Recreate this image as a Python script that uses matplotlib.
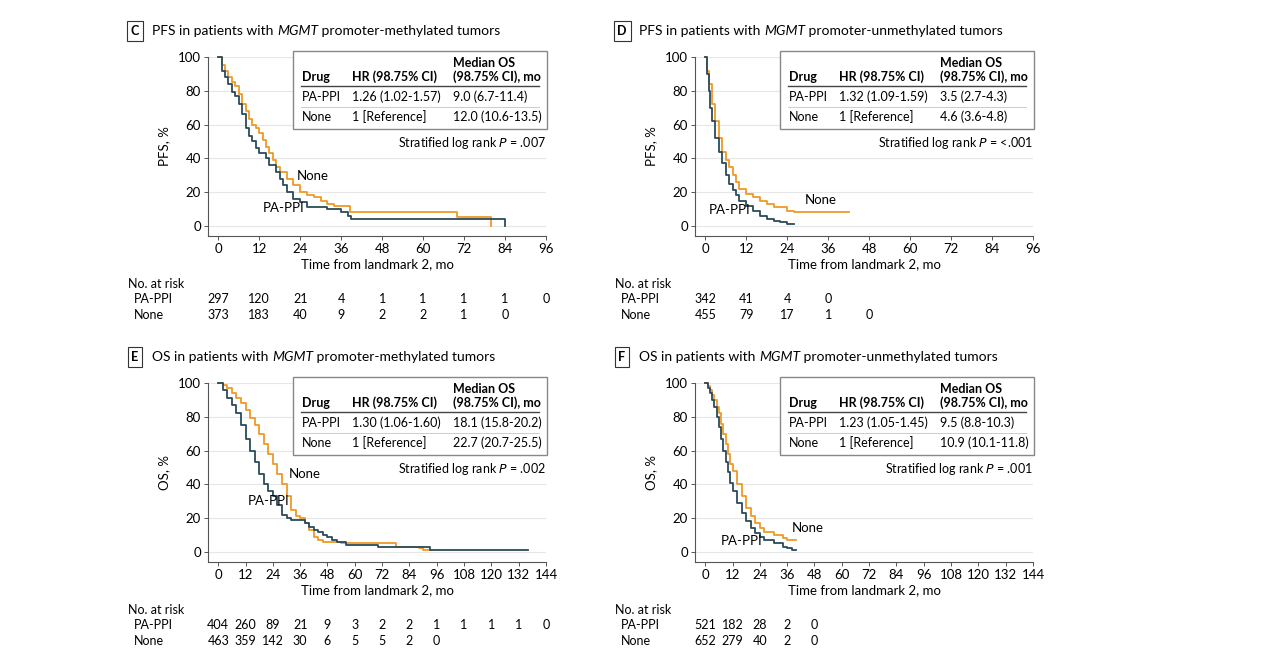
import numpy as np
import matplotlib.pyplot as plt
from matplotlib.transforms import blended_transform_factory

plt.rcParams['font.family'] = ['Lato', 'DejaVu Sans']
plt.rcParams['font.size'] = 9.5

ORANGE = '#EE9A25'
TEAL = '#2B4B5C'
W, H = 1264, 655

# ---- data ----
c_ppi_t = [0, 1, 2, 3, 4, 5, 6, 7, 8, 9, 10, 11, 12, 14, 15, 17, 18, 19, 20, 22, 24, 26, 30, 32, 36, 38, 39, 84, 84.01]
c_ppi_s = [100, 92, 88, 84, 79, 77, 72, 66, 58, 53, 50, 46, 43, 40, 36, 32, 28, 24, 20, 16, 14, 11, 11, 10, 8, 6, 4, 4, 0]
c_none_t = [0, 1, 2, 3, 4, 5, 6, 7, 8, 9, 10, 11, 12, 13, 14, 15, 16, 17, 18, 20, 22, 24, 26, 28, 30, 32, 34, 38, 38.5, 70, 80, 80.01]
c_none_s = [100, 95, 92, 88, 85, 83, 78, 72, 68, 63, 60, 58, 55, 51, 47, 43, 39, 35, 32, 28, 24, 20, 18, 17, 15, 13, 12, 12, 8, 5, 5, 0]

d_ppi_t = [0, 0.5, 1, 1.5, 2, 3, 4, 5, 6, 7, 8, 9, 10, 12, 14, 16, 18, 20, 22, 24, 26]
d_ppi_s = [100, 90, 80, 70, 62, 52, 44, 37, 30, 25, 21, 18, 15, 12, 9, 6, 4, 3, 2, 1, 1]
d_none_t = [0, 0.5, 1, 2, 3, 4, 5, 6, 7, 8, 9, 10, 12, 14, 16, 18, 20, 24, 26, 42]
d_none_s = [100, 92, 84, 72, 62, 52, 44, 39, 35, 30, 26, 22, 19, 17, 15, 13, 11, 9, 8, 8]

e_ppi_t = [0, 2, 4, 6, 8, 10, 12, 14, 16, 18, 20, 22, 24, 26, 28, 30, 32, 36, 38, 40, 42, 44, 46, 48, 50, 52, 56, 68, 70, 92, 93, 136]
e_ppi_s = [100, 96, 91, 87, 82, 75, 67, 60, 53, 46, 40, 36, 33, 28, 22, 20, 19, 19, 17, 15, 13, 12, 10, 9, 7, 6, 4, 4, 3, 3, 1, 1]
e_none_t = [0, 2, 4, 6, 8, 10, 12, 14, 16, 18, 20, 22, 24, 26, 28, 30, 32, 34, 36, 38, 40, 42, 44, 46, 54, 76, 78, 88, 90, 94]
e_none_s = [100, 99, 97, 94, 91, 88, 84, 79, 75, 70, 64, 58, 52, 46, 40, 33, 25, 21, 20, 17, 13, 9, 7, 6, 5, 5, 3, 2, 1, 1]

f_ppi_t = [0, 1, 2, 3, 4, 5, 6, 7, 8, 9, 10, 11, 12, 14, 16, 18, 20, 22, 24, 26, 30, 34, 36, 38, 40]
f_ppi_s = [100, 97, 94, 90, 86, 80, 74, 67, 60, 53, 47, 41, 36, 29, 23, 18, 14, 11, 9, 7, 5, 3, 2, 1, 1]
f_none_t = [0, 1, 2, 3, 4, 5, 6, 7, 8, 9, 10, 11, 12, 14, 16, 18, 20, 22, 24, 26, 30, 34, 36, 40]
f_none_s = [100, 98, 96, 93, 90, 86, 82, 76, 70, 64, 58, 52, 48, 40, 33, 26, 21, 17, 14, 12, 10, 8, 7, 7]

c_risk_ppi = [297, 120, 21, 4, 1, 1, 1, 1, 0]
c_risk_none = [373, 183, 40, 9, 2, 2, 1, 0]
d_risk_ppi = [342, 41, 4, 0]
d_risk_none = [455, 79, 17, 1, 0]
e_risk_ppi = [404, 260, 89, 21, 9, 3, 2, 2, 1, 1, 1, 1, 0]
e_risk_none = [463, 359, 142, 30, 6, 5, 5, 2, 0]
f_risk_ppi = [521, 182, 28, 2, 0]
f_risk_none = [652, 279, 40, 2, 0]

panels = [
    dict(letter='C', pre='PFS in patients with ', post=' promoter-methylated tumors', ylab='PFS, %',
         dx=0, dy=0, xmax=96, ppi=(c_ppi_t, c_ppi_s), none=(c_none_t, c_none_s),
         hr='1.26 (1.02-1.57)', m1='9.0 (6.7-11.4)', m2='12.0 (10.6-13.5)', p='.007',
         lab_none=(23, 27), lab_ppi=(13, 8), risk=(c_risk_ppi, c_risk_none)),
    dict(letter='D', pre='PFS in patients with ', post=' promoter-unmethylated tumors', ylab='PFS, %',
         dx=487, dy=0, xmax=96, ppi=(d_ppi_t, d_ppi_s), none=(d_none_t, d_none_s),
         hr='1.32 (1.09-1.59)', m1='3.5 (2.7-4.3)', m2='4.6 (3.6-4.8)', p='<.001',
         lab_none=(29, 13), lab_ppi=(1, 7), risk=(d_risk_ppi, d_risk_none)),
    dict(letter='E', pre='OS in patients with ', post=' promoter-methylated tumors', ylab='OS, %',
         dx=0, dy=326, xmax=144, ppi=(e_ppi_t, e_ppi_s), none=(e_none_t, e_none_s),
         hr='1.30 (1.06-1.60)', m1='18.1 (15.8-20.2)', m2='22.7 (20.7-25.5)', p='.002',
         lab_none=(31, 44), lab_ppi=(13, 28), risk=(e_risk_ppi, e_risk_none)),
    dict(letter='F', pre='OS in patients with ', post=' promoter-unmethylated tumors', ylab='OS, %',
         dx=487, dy=326, xmax=144, ppi=(f_ppi_t, f_ppi_s), none=(f_none_t, f_none_s),
         hr='1.23 (1.05-1.45)', m1='9.5 (8.8-10.3)', m2='10.9 (10.1-11.8)', p='.001',
         lab_none=(38, 12), lab_ppi=(7, 4), risk=(f_risk_ppi, f_risk_none)),
]


def fx(x):
    return x / W


def fy(y):
    return 1 - y / H


fig = plt.figure(figsize=(12.64, 6.55), dpi=100)

for p in panels:
    dx, dy = p['dx'], p['dy']
    xmax = p['xmax']
    ax = fig.add_axes([fx(208 + dx), fy(236 + dy), (546 - 208) / W, (236 - 57) / H])
    ax.set_xlim(-xmax * 3 / 96, xmax)
    ax.set_ylim(-6, 100)
    for s in ['top', 'right']:
        ax.spines[s].set_visible(False)
    for s in ['left', 'bottom']:
        ax.spines[s].set_color('#555555')
        ax.spines[s].set_linewidth(0.8)
    ax.set_yticks([0, 20, 40, 60, 80, 100])
    ax.set_xticks(np.arange(0, xmax + 1, 12))
    ax.tick_params(length=3, width=0.7, color='#555555', labelsize=9.5, pad=2)
    ax.grid(axis='y', color='#E6E6E6', linewidth=0.8)
    ax.set_axisbelow(True)
    ax.set_xlabel('Time from landmark 2, mo', fontsize=9.5, labelpad=2)
    ax.set_ylabel(p['ylab'], fontsize=9.5, labelpad=6)

    ax.step(*p['none'], where='post', color=ORANGE, lw=1.3, clip_on=False)
    ax.step(*p['ppi'], where='post', color=TEAL, lw=1.3, clip_on=False)
    ax.text(*p['lab_none'], 'None', fontsize=9.5)
    ax.text(*p['lab_ppi'], 'PA-PPI', fontsize=9.5)

    # title with boxed letter
    fig.text(fx(135 + dx), fy(31 + dy), p['letter'], fontsize=9, fontweight='bold', ha='center', va='center',
             bbox=dict(boxstyle='square,pad=0.3', fc='white', ec='#333333', lw=0.8))
    t1 = fig.text(fx(152 + dx), fy(31 + dy), p['pre'], fontsize=10, va='center')
    fig.canvas.draw()
    bb = t1.get_window_extent()
    t2 = fig.text(bb.x1 / W, fy(31 + dy), 'MGMT', fontsize=10, style='italic', va='center')
    fig.canvas.draw()
    bb2 = t2.get_window_extent()
    fig.text(bb2.x1 / W, fy(31 + dy), p['post'], fontsize=10, va='center')

    # inset table
    fig.add_artist(plt.Rectangle((fx(293 + dx), fy(129 + dy)), (547 - 293) / W, (129 - 51) / H,
                                 transform=fig.transFigure, fc='white', ec='#888888', lw=1.0, zorder=5))
    kw = dict(fontsize=9, va='center', zorder=6)
    fig.text(fx(302 + dx), fy(77 + dy), 'Drug', fontweight='bold', **kw)
    fig.text(fx(352 + dx), fy(77 + dy), 'HR (98.75% CI)', fontweight='bold', **kw)
    fig.text(fx(453 + dx), fy(63 + dy), 'Median OS', fontweight='bold', **kw)
    fig.text(fx(453 + dx), fy(77 + dy), '(98.75% CI), mo', fontweight='bold', **kw)
    fig.add_artist(plt.Line2D([fx(301 + dx), fx(539 + dx)], [fy(86 + dy)] * 2, color='#444444', lw=1.0, zorder=6))
    fig.add_artist(plt.Line2D([fx(301 + dx), fx(539 + dx)], [fy(107 + dy)] * 2, color='#CCCCCC', lw=0.7, zorder=6))
    fig.text(fx(302 + dx), fy(97 + dy), 'PA-PPI', **kw)
    fig.text(fx(352 + dx), fy(97 + dy), p['hr'], **kw)
    fig.text(fx(453 + dx), fy(97 + dy), p['m1'], **kw)
    fig.text(fx(302 + dx), fy(117 + dy), 'None', **kw)
    fig.text(fx(352 + dx), fy(117 + dy), '1 [Reference]', **kw)
    fig.text(fx(453 + dx), fy(117 + dy), p['m2'], **kw)
    fig.text(fx(546 + dx), fy(143 + dy), 'Stratified log rank $\\it{P}$ = ' + p['p'], fontsize=9,
             ha='right', va='center')

    # risk table
    tr = blended_transform_factory(ax.transData, fig.transFigure)
    fig.text(fx(128 + dx), fy(284 + dy), 'No. at risk', fontsize=9, va='center')
    fig.text(fx(134 + dx), fy(299 + dy), 'PA-PPI', fontsize=9, va='center')
    fig.text(fx(134 + dx), fy(315 + dy), 'None', fontsize=9, va='center')
    for i, v in enumerate(p['risk'][0]):
        ax.text(i * 12, fy(299 + dy), str(v), transform=tr, fontsize=9, ha='center', va='center')
    for i, v in enumerate(p['risk'][1]):
        ax.text(i * 12, fy(315 + dy), str(v), transform=tr, fontsize=9, ha='center', va='center')

fig.savefig('out.png', dpi=100)
